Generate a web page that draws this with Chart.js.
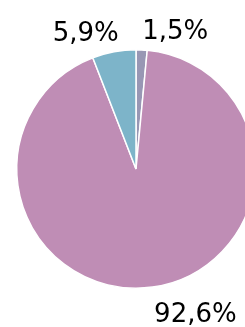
<!DOCTYPE html>
<html>
<head>
<meta charset="utf-8">
<script src="https://cdn.jsdelivr.net/npm/chart.js@4"></script>
<style>
    html, body { margin: 0; padding: 0; background: #fff; overflow: hidden; }
    #wrap { width: 272px; height: 327px; }
</style>
</head>
<body>
<div id="wrap"><canvas id="pie" width="272" height="327"></canvas></div>
<script>
const categories = ['A', 'B', 'C'];
const shares = [1.5, 92.6, 5.9];
const shareLabels = ['1,5%', '92,6%', '5,9%'];
const sliceColors = ['#9897b4', '#bf8db5', '#7db4c9'];

// labels outside the pie, anchored just past the arc middle
const outsideLabels = {
    id: 'outsideLabels',
    afterDraw: function (chart) {
        const ctx = chart.ctx;
        const arcs = chart.getDatasetMeta(0).data;
        ctx.save();
        ctx.font = '26px "DejaVu Sans"';
        ctx.fillStyle = '#000';
        arcs.forEach(function (arc, i) {
            const mid = (arc.startAngle + arc.endAngle) / 2;
            const r = arc.outerRadius + 12;
            let x = arc.x + Math.cos(mid) * r;
            let y = arc.y + Math.sin(mid) * r;
            if (Math.cos(mid) >= 0) {
                ctx.textAlign = 'left';
            } else {
                ctx.textAlign = 'right';
                x += 7;
            }
            if (Math.sin(mid) < 0) {
                ctx.textBaseline = 'alphabetic';
                y += 1;
            } else {
                ctx.textBaseline = 'top';
                y += 3;
            }
            ctx.fillText(shareLabels[i], x, y);
        });
        ctx.restore();
    }
};

new Chart(document.getElementById('pie'), {
    type: 'pie',
    data: {
        labels: categories,
        datasets: [{
            data: shares,
            backgroundColor: sliceColors,
            borderColor: '#ffffff',
            borderWidth: 1.5
        }]
    },
    options: {
        responsive: false,
        animation: false,
        layout: { padding: { top: 49, bottom: 38, left: 16, right: 16 } },
        plugins: { legend: { display: false }, tooltip: { enabled: false } }
    },
    plugins: [outsideLabels]
});
</script>
</body>
</html>
